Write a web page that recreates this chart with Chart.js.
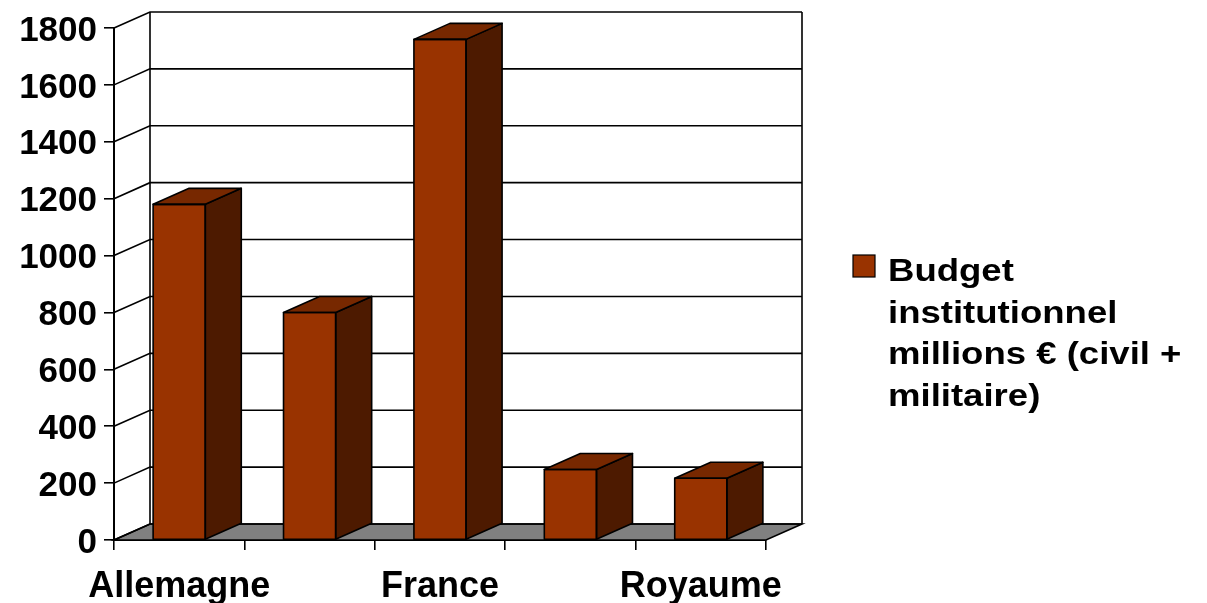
<!DOCTYPE html>
<html lang="fr">
<head>
<meta charset="utf-8">
<title>Budget institutionnel</title>
<script src="https://cdn.jsdelivr.net/npm/chart.js@4/dist/chart.umd.min.js"></script>
<style>
  html, body { margin: 0; padding: 0; background: #fff; }
  #chart { display: block; }
</style>
</head>
<body>
<canvas id="chart" width="1207" height="603"></canvas>
<script>
/**
 * Data.
 */
const countries = ['Allemagne', 'Italie', 'France', 'Espagne', 'Royaume-Uni'];
const budgets = [1180, 800, 1760, 248, 217];
const seriesLabel = 'Budget institutionnel millions € (civil + militaire)';
const yTicks = [0, 200, 400, 600, 800, 1000, 1200, 1400, 1600, 1800];

/**
 * Look.
 */
const FONT = '"Liberation Sans", Arial, sans-serif';
const FRONT = '#993300';
const TOP = '#772800';
const SIDE = '#4d1a00';
const FLOOR = '#808080';
const DEPTH = { dx: 36, dy: -16 };

/**
 * Walls, floor and back gridlines, drawn behind the bars.
 */
const walls = {
  id: 'walls',
  beforeDatasetsDraw(chart) {
    const { ctx, chartArea: a, scales: { y } } = chart;
    const { dx, dy } = DEPTH;
    const zero = y.getPixelForValue(0);
    const top = y.getPixelForValue(yTicks[yTicks.length - 1]);
    ctx.save();
    ctx.lineWidth = 1.6;
    ctx.strokeStyle = '#000';

    // floor
    ctx.beginPath();
    ctx.moveTo(a.left, zero);
    ctx.lineTo(a.right, zero);
    ctx.lineTo(a.right + dx, zero + dy);
    ctx.lineTo(a.left + dx, zero + dy);
    ctx.closePath();
    ctx.fillStyle = FLOOR;
    ctx.fill();
    ctx.stroke();

    // gridlines on the back wall and the left wall
    yTicks.forEach((v) => {
      const py = y.getPixelForValue(v);
      ctx.beginPath();
      ctx.moveTo(a.left, py);
      ctx.lineTo(a.left + dx, py + dy);
      ctx.lineTo(a.right + dx, py + dy);
      ctx.stroke();
    });

    // back wall frame
    ctx.beginPath();
    ctx.moveTo(a.left + dx, zero + dy);
    ctx.lineTo(a.left + dx, top + dy);
    ctx.moveTo(a.right + dx, zero + dy);
    ctx.lineTo(a.right + dx, top + dy);
    ctx.stroke();
    ctx.restore();
  },
};

/**
 * Top and side faces of each bar.
 */
const boxes = {
  id: 'boxes',
  afterDatasetsDraw(chart) {
    const { ctx } = chart;
    const { dx, dy } = DEPTH;
    ctx.save();
    ctx.lineWidth = 1.6;
    ctx.strokeStyle = '#000';
    ctx.lineJoin = 'round';
    chart.getDatasetMeta(0).data.forEach((bar) => {
      const { x, y, base, width } = bar.getProps(['x', 'y', 'base', 'width'], true);
      const l = x - width / 2;
      const r = x + width / 2;

      ctx.beginPath();
      ctx.moveTo(r, y);
      ctx.lineTo(r + dx, y + dy);
      ctx.lineTo(r + dx, base + dy);
      ctx.lineTo(r, base);
      ctx.closePath();
      ctx.fillStyle = SIDE;
      ctx.fill();
      ctx.stroke();

      ctx.beginPath();
      ctx.moveTo(l, y);
      ctx.lineTo(l + dx, y + dy);
      ctx.lineTo(r + dx, y + dy);
      ctx.lineTo(r, y);
      ctx.closePath();
      ctx.fillStyle = TOP;
      ctx.fill();
      ctx.stroke();

      ctx.strokeRect(l, y, width, base - y);
    });
    ctx.restore();
  },
};

/**
 * Legend on the right, wrapped like the original.
 */
const sideLegend = {
  id: 'sideLegend',
  afterDraw(chart) {
    const { ctx } = chart;
    const stretch = 1.16;
    const maxWidth = 320;
    ctx.save();
    ctx.font = `bold 31.5px ${FONT}`;
    const lines = [];
    let line = '';
    chart.data.datasets[0].label.split(' ').forEach((word) => {
      const test = line ? `${line} ${word}` : word;
      if (line && ctx.measureText(test).width * stretch > maxWidth) {
        lines.push(line);
        line = word;
      } else {
        line = test;
      }
    });
    lines.push(line);

    ctx.fillStyle = FRONT;
    ctx.fillRect(853, 255, 22, 22);
    ctx.strokeStyle = '#000';
    ctx.lineWidth = 1.2;
    ctx.strokeRect(853, 255, 22, 22);

    ctx.fillStyle = '#000';
    ctx.textBaseline = 'alphabetic';
    lines.forEach((t, i) => {
      ctx.save();
      ctx.translate(888, 281 + i * 41.5);
      ctx.scale(stretch, 1);
      ctx.fillText(t, 0, 0);
      ctx.restore();
    });
    ctx.restore();
  },
};

new Chart(document.getElementById('chart'), {
  type: 'bar',
  data: {
    labels: countries,
    datasets: [{
      label: seriesLabel,
      data: budgets,
      backgroundColor: FRONT,
      borderWidth: 0,
      barPercentage: 0.4,
      categoryPercentage: 1,
    }],
  },
  options: {
    responsive: false,
    animation: false,
    devicePixelRatio: 1,
    layout: { padding: { top: 25, right: 441, left: 0, bottom: 0 } },
    plugins: {
      legend: { display: false },
      tooltip: { enabled: false },
    },
    scales: {
      x: {
        afterFit: (scale) => { scale.height = 63; },
        grid: {
          offset: true,
          drawOnChartArea: false,
          drawTicks: true,
          tickLength: 10,
          color: '#000',
          lineWidth: 1.6,
        },
        border: { display: true, color: '#000', width: 2 },
        ticks: {
          autoSkip: false,
          maxRotation: 0,
          padding: 15,
          color: '#000',
          font: { family: FONT, size: 36, weight: 'bold' },
          callback: (v, i) => (i % 2 ? '' : countries[i].split('-')[0]),
        },
      },
      y: {
        min: 0,
        max: 1800,
        afterFit: (scale) => { scale.width = 114; },
        afterBuildTicks: (scale) => { scale.ticks = yTicks.map((value) => ({ value })); },
        grid: {
          drawOnChartArea: false,
          drawTicks: true,
          tickLength: 10,
          color: '#000',
          lineWidth: 1.6,
        },
        border: { display: true, color: '#000', width: 2 },
        ticks: {
          padding: 7,
          labelOffset: 3,
          color: '#000',
          font: { family: FONT, size: 35, weight: 'bold' },
          callback: (v) => String(v),
        },
      },
    },
  },
  plugins: [walls, boxes, sideLegend],
});
</script>
</body>
</html>
